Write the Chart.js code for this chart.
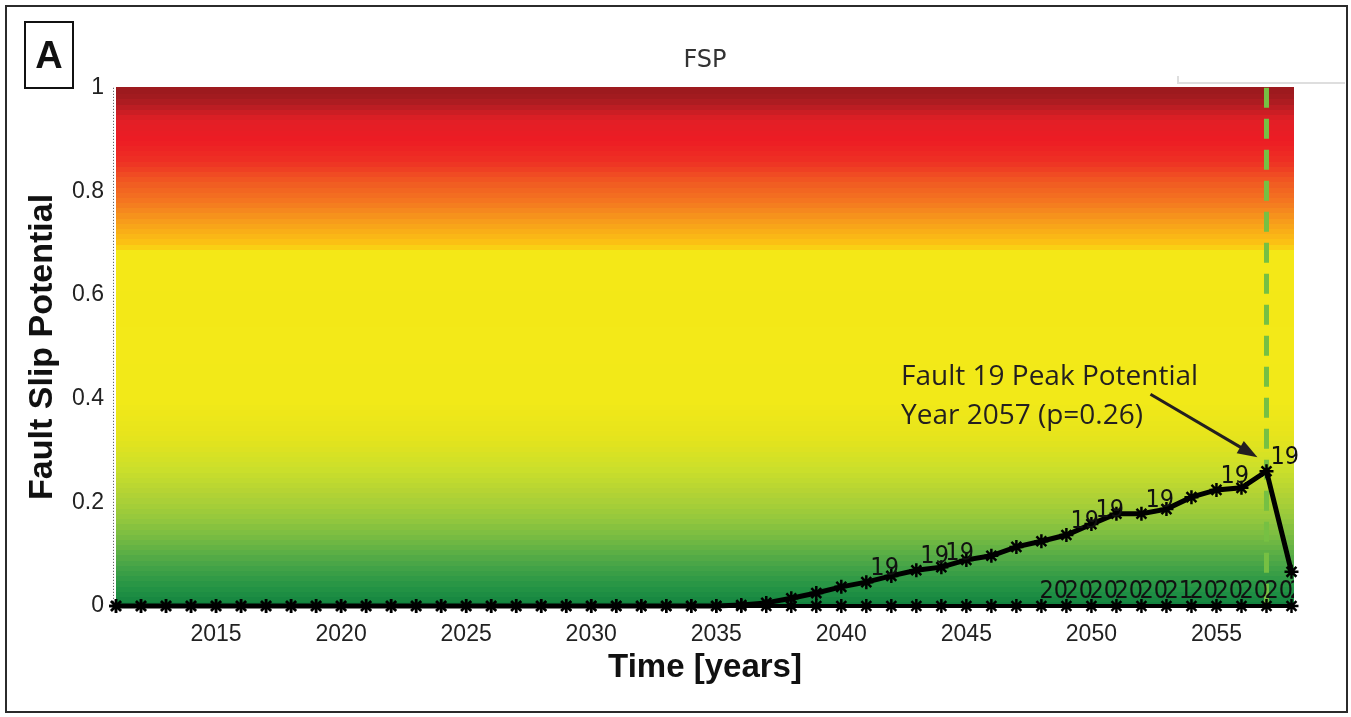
<!DOCTYPE html>
<html>
<head>
<meta charset="utf-8">
<title>FSP</title>
<script src="https://cdn.jsdelivr.net/npm/chart.js@4.4.0/dist/chart.umd.min.js"></script>
<style>
  html, body { margin: 0; padding: 0; background: #fff; }
  #wrap { width: 1351px; height: 717px; }
</style>
</head>
<body>
<div id="wrap"><canvas id="fsp" width="1351" height="717"></canvas></div>
<script>
// yearly time steps
const years = [
  2011, 2012, 2013, 2014, 2015, 2016, 2017, 2018, 2019, 2020,
  2021, 2022, 2023, 2024, 2025, 2026, 2027, 2028, 2029, 2030,
  2031, 2032, 2033, 2034, 2035, 2036, 2037, 2038, 2039, 2040,
  2041, 2042, 2043, 2044, 2045, 2046, 2047, 2048, 2049, 2050,
  2051, 2052, 2053, 2054, 2055, 2056, 2057, 2058
];

// fault slip potential of fault 19
const fault19 = [
  0, 0, 0, 0, 0, 0, 0, 0, 0, 0,
  0, 0, 0, 0, 0, 0, 0, 0, 0, 0,
  0, 0, 0, 0, 0, 0.002, 0.006, 0.015, 0.025, 0.037,
  0.046, 0.058, 0.069, 0.075, 0.089, 0.097, 0.114, 0.125, 0.137, 0.158,
  0.178, 0.178, 0.187, 0.21, 0.224, 0.228, 0.26, 0.066
];

// all the other faults stay at zero
const otherFaults = [
  0, 0, 0, 0, 0, 0, 0, 0, 0, 0,
  0, 0, 0, 0, 0, 0, 0, 0, 0, 0,
  0, 0, 0, 0, 0, 0, 0, 0, 0, 0,
  0, 0, 0, 0, 0, 0, 0, 0, 0, 0,
  0, 0, 0, 0, 0, 0, 0, 0
];

const xTicks = [2015, 2020, 2025, 2030, 2035, 2040, 2045, 2050, 2055];
const yTicks = [0, 0.2, 0.4, 0.6, 0.8, 1];

// years where the "19" tag is printed on the curve
const fault19LabelYears = [2041, 2043, 2044, 2049, 2050, 2052, 2055, 2057];
// tags printed on the zero line
const otherLabelYears = [2048, 2049, 2050, 2051, 2052, 2053, 2054, 2055, 2056, 2057, 2058];
const otherLabelText = ['20', '20', '20', '20', '20', '21', '20', '20', '20', '20', '20'];

const peakYear = 2057;
const peakValue = 0.26;

// colour ramp of the background (value -> colour)
const rampStops = [
  [0.00, '#10803f'], [0.04, '#259445'], [0.08, '#45a447'], [0.12, '#6ab544'],
  [0.17, '#94c83d'], [0.22, '#b3d334'], [0.27, '#cde02a'], [0.33, '#e6e41c'],
  [0.40, '#f2e918'], [0.685, '#f4e817'], [0.70, '#fcc413'], [0.74, '#f7a11a'],
  [0.78, '#f47920'], [0.82, '#f15a22'], [0.86, '#ee3124'], [0.90, '#ed1c24'],
  [0.94, '#e21f26'], [0.96, '#c41e24'], [0.98, '#a51b20'], [1.00, '#9a1a1e']
];

function hexToRgb(h) {
  return [parseInt(h.slice(1, 3), 16), parseInt(h.slice(3, 5), 16), parseInt(h.slice(5, 7), 16)];
}

function rampColor(v) {
  for (let i = 1; i < rampStops.length; i++) {
    const [v1, c1] = rampStops[i];
    const [v0, c0] = rampStops[i - 1];
    if (v <= v1) {
      const t = (v - v0) / (v1 - v0);
      const a = hexToRgb(c0), b = hexToRgb(c1);
      const c = a.map((x, k) => Math.round(x + (b[k] - x) * t));
      return `rgb(${c[0]},${c[1]},${c[2]})`;
    }
  }
  return rampStops[rampStops.length - 1][1];
}

const backgroundBands = {
  id: 'backgroundBands',
  beforeDatasetsDraw(chart) {
    const { ctx, chartArea } = chart;
    const y = chart.scales.y;
    const x = chart.scales.x;
    ctx.save();
    const step = 0.01;
    for (let v = 0; v < 1 - 1e-9; v += step) {
      const top = y.getPixelForValue(v + step);
      const bot = y.getPixelForValue(v);
      ctx.fillStyle = rampColor(v + step / 2);
      ctx.fillRect(chartArea.left, Math.floor(top), chartArea.right - chartArea.left, Math.ceil(bot - top) + 1);
    }
    // peak year marker
    const px = x.getPixelForValue(peakYear);
    ctx.strokeStyle = '#76c043';
    ctx.lineWidth = 5;
    ctx.setLineDash([20, 11]);
    ctx.beginPath();
    ctx.moveTo(px, chartArea.top);
    ctx.lineTo(px, chartArea.bottom);
    ctx.stroke();
    ctx.setLineDash([]);
    // dotted minor ticks along the y axis
    ctx.strokeStyle = '#444';
    ctx.lineWidth = 1;
    ctx.setLineDash([1, 2]);
    ctx.beginPath();
    ctx.moveTo(chartArea.left - 2.5, chartArea.top);
    ctx.lineTo(chartArea.left - 2.5, chartArea.bottom);
    ctx.stroke();
    ctx.restore();
  }
};

const pointTags = {
  id: 'pointTags',
  afterDatasetsDraw(chart) {
    const { ctx, chartArea } = chart;
    ctx.save();
    ctx.fillStyle = '#111';
    ctx.font = '25px "Liberation Sans Narrow", "DejaVu Sans Condensed", "Liberation Sans", sans-serif';
    ctx.textAlign = 'left';
    ctx.textBaseline = 'alphabetic';
    const m19 = chart.getDatasetMeta(0);
    fault19LabelYears.forEach(yr => {
      const p = m19.data[years.indexOf(yr)];
      ctx.fillText('19', p.x + 4, p.y - 7);
    });
    // the zero-line tags are cut at the plot edge
    ctx.beginPath();
    ctx.rect(chartArea.left, chartArea.top, chartArea.right - chartArea.left, chartArea.bottom - chartArea.top);
    ctx.clip();
    const m0 = chart.getDatasetMeta(1);
    otherLabelYears.forEach((yr, i) => {
      const p = m0.data[years.indexOf(yr)];
      ctx.fillText(otherLabelText[i], p.x - 2, p.y - 8);
    });
    ctx.restore();
  }
};

const decorations = {
  id: 'decorations',
  afterDraw(chart) {
    const ctx = chart.ctx;
    ctx.save();
    // outer frame
    ctx.strokeStyle = '#2b2b2b';
    ctx.lineWidth = 2;
    ctx.strokeRect(6, 6, 1341, 706);
    // faint tab shadow top right
    ctx.strokeStyle = '#dedede';
    ctx.lineWidth = 2;
    ctx.beginPath();
    ctx.moveTo(1178, 76);
    ctx.lineTo(1178, 83);
    ctx.lineTo(1345, 83);
    ctx.stroke();
    // panel letter
    ctx.strokeStyle = '#111';
    ctx.lineWidth = 2;
    ctx.strokeRect(25, 22, 48, 66);
    ctx.fillStyle = '#111';
    ctx.font = 'bold 38px "Liberation Sans", Arial, sans-serif';
    ctx.textAlign = 'center';
    ctx.textBaseline = 'alphabetic';
    ctx.fillText('A', 49, 68);

    // peak annotation
    const m19 = chart.getDatasetMeta(0);
    const peak = m19.data[years.indexOf(peakYear)];
    ctx.fillStyle = '#231f20';
    ctx.font = '28px "Open Sans", "Noto Sans", sans-serif';
    ctx.textAlign = 'left';
    ctx.fillText('Fault 19 Peak Potential', 901, 385, 300);
    ctx.fillText('Year ' + peakYear + ' (p=' + peakValue.toFixed(2) + ')', 901, 424, 244);
    const tx = peak.x - 9, ty = peak.y - 14;
    const sx = tx - 107, sy = ty - 63;
    const ang = Math.atan2(ty - sy, tx - sx);
    ctx.strokeStyle = '#231f20';
    ctx.lineWidth = 3;
    ctx.beginPath();
    ctx.moveTo(sx, sy);
    ctx.lineTo(tx - 14 * Math.cos(ang), ty - 14 * Math.sin(ang));
    ctx.stroke();
    ctx.beginPath();
    ctx.moveTo(tx, ty);
    ctx.lineTo(tx - 20 * Math.cos(ang) + 7 * Math.sin(ang), ty - 20 * Math.sin(ang) - 7 * Math.cos(ang));
    ctx.lineTo(tx - 20 * Math.cos(ang) - 7 * Math.sin(ang), ty - 20 * Math.sin(ang) + 7 * Math.cos(ang));
    ctx.closePath();
    ctx.fill();
    ctx.restore();
  }
};

const tickFont = { family: '"Liberation Sans", Arial, sans-serif', size: 23 };

new Chart(document.getElementById('fsp'), {
  type: 'line',
  data: {
    datasets: [
      {
        label: 'Fault 19',
        data: years.map((yr, i) => ({ x: yr, y: fault19[i] })),
        borderColor: '#000',
        borderWidth: 5,
        pointStyle: 'star',
        pointRadius: 7,
        pointBorderWidth: 2.5,
        pointBorderColor: '#000',
        pointBackgroundColor: '#000',
        tension: 0,
        clip: 10
      },
      {
        label: 'Other faults',
        data: years.map((yr, i) => ({ x: yr, y: otherFaults[i] })),
        borderColor: '#000',
        borderWidth: 4,
        pointStyle: 'star',
        pointRadius: 7,
        pointBorderWidth: 2.5,
        pointBorderColor: '#000',
        pointBackgroundColor: '#000',
        tension: 0,
        clip: 10
      }
    ]
  },
  options: {
    responsive: false,
    animation: false,
    layout: { padding: { left: 0, right: 57, top: 0, bottom: 0 } },
    plugins: {
      legend: { display: false },
      tooltip: { enabled: false },
      title: {
        display: true,
        text: 'FSP',
        fullSize: false,
        color: '#333',
        font: { family: '"DejaVu Sans", Verdana, sans-serif', size: 24, weight: 'normal', lineHeight: 1.2 },
        padding: { top: 46, bottom: 13 }
      }
    },
    scales: {
      x: {
        type: 'linear',
        min: 2011,
        max: 2058.1,
        grid: { display: false },
        border: { display: false },
        afterBuildTicks: s => { s.ticks = xTicks.map(v => ({ value: v })); },
        afterFit: s => { s.height = 111; },
        ticks: { font: tickFont, color: '#222', padding: 7, maxRotation: 0, autoSkip: false, callback: v => String(v) },
        title: {
          display: true,
          text: 'Time [years]',
          color: '#111',
          font: { family: '"Liberation Sans", Arial, sans-serif', size: 33, weight: 'bold', lineHeight: 1.2 },
          padding: { top: 0, bottom: 29 }
        }
      },
      y: {
        min: 0,
        max: 1,
        grid: { display: false },
        border: { display: false },
        afterBuildTicks: s => { s.ticks = yTicks.map(v => ({ value: v })); },
        afterFit: s => { s.width = 116; },
        ticks: { font: tickFont, color: '#222', padding: 4, autoSkip: false, callback: v => String(v) },
        title: {
          display: true,
          text: 'Fault Slip Potential',
          color: '#111',
          font: { family: '"Liberation Sans", Arial, sans-serif', size: 34, weight: 'bold', lineHeight: 1.2 },
          padding: { top: 22, bottom: 0 }
        }
      }
    }
  },
  plugins: [backgroundBands, pointTags, decorations]
});
</script>
</body>
</html>
